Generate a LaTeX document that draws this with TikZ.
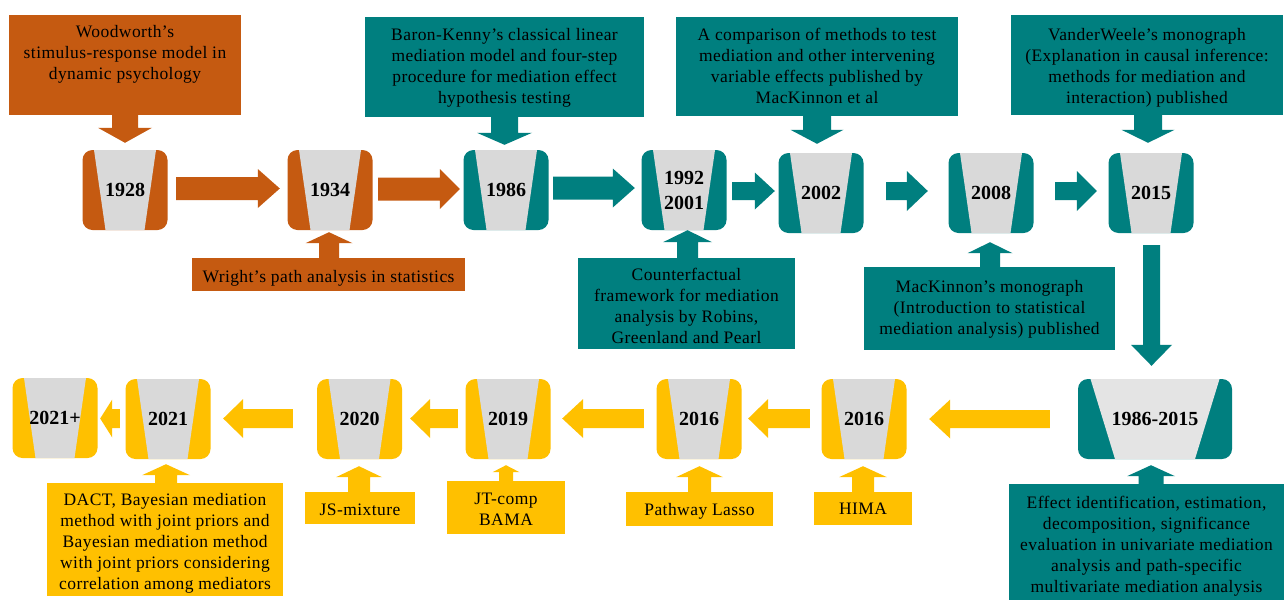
\documentclass[tikz,border=0pt]{standalone}
\usepackage{fontspec}
\setmainfont{Liberation Serif}
\newfontfamily\bodyfont[LetterSpace=2.5]{Liberation Serif}
\usetikzlibrary{calc}
\definecolor{orng}{HTML}{C55A11}
\definecolor{tealc}{HTML}{007F7F}
\definecolor{yel}{HTML}{FFC000}
\definecolor{gry}{HTML}{D9D9D9}
\definecolor{gryl}{HTML}{E4E4E4}
\tikzset{
  yearbox/.style n args={5}{rectangle, rounded corners=10pt, fill=#1,
    minimum width=#2, minimum height=80pt, inner sep=0pt, align=center,
    font=\fontsize{20}{25}\selectfont\bfseries,
    path picture={\fill[#5, sharp corners] let \p1=(path picture bounding box.north west),
      \p2=(path picture bounding box.south east) in
      (\x1+#3,\y1) -- (\x2-#3,\y1) -- (\x2-#4,\y2) -- (\x1+#4,\y2) -- cycle;}},
  tbox/.style={rectangle, fill=#1, inner sep=0pt, text=black}
}
\newcommand\tbt[4]{\parbox[c][#2][t]{#1}{\centering\bodyfont\fontsize{17.5}{21}\selectfont\rule{0pt}{#3}#4\par}}
\pgfkeys{/barr/.cd, b/.store in=\barrB, H/.store in=\barrH, h/.store in=\barrL}
\newcommand\barrow[4][]{%
  \pgfkeys{/barr/.cd,b=10,H=20,h=20,#1}%
  \coordinate (ba-s) at (#2);
  \coordinate (ba-t) at (#3);
  \coordinate (ba-m) at ($(ba-t)!\barrL pt!(ba-s)$);
  \fill[#4] ($(ba-s)!\barrB pt!90:(ba-t)$) -- ($(ba-m)!\barrB pt!-90:(ba-s)$)
    -- ($(ba-m)!\barrH pt!-90:(ba-s)$) -- (ba-t) -- ($(ba-m)!\barrH pt!90:(ba-s)$)
    -- ($(ba-m)!\barrB pt!90:(ba-s)$) -- ($(ba-s)!\barrB pt!-90:(ba-t)$) -- cycle;
}
\begin{document}
\begin{tikzpicture}[x=1pt,y=-1pt]
\fill[white] (0,0) rectangle (1284,600);
\useasboundingbox (0,0) rectangle (1284,600);

% year boxes
\node[yearbox={orng}{85pt}{11.5}{23}{gry}] (Y1) at (125,190) {1928};
\node[yearbox={orng}{85pt}{11.5}{23}{gry}] (Y2) at (330,190) {1934};
\node[yearbox={tealc}{85pt}{11.5}{23}{gry}] (Y3) at (506,190) {1986};
\node[yearbox={tealc}{85pt}{11.5}{23}{gry}] (Y4) at (684,190) {1992\\2001};
\node[yearbox={tealc}{85pt}{11.5}{23}{gry}] (Y5) at (821,193) {2002};
\node[yearbox={tealc}{85pt}{11.5}{23}{gry}] (Y6) at (991,193) {2008};
\node[yearbox={tealc}{85pt}{11.5}{23}{gry}] (Y7) at (1151,193) {2015};
\node[yearbox={tealc}{154pt}{12.5}{37}{gryl}] (Y8) at (1155,419) {1986-2015};
\node[yearbox={yel}{85pt}{11.5}{23}{gry}] (Y9) at (864,419) {2016};
\node[yearbox={yel}{85pt}{11.5}{23}{gry}] (Y10) at (699,419) {2016};
\node[yearbox={yel}{85pt}{11.5}{23}{gry}] (Y11) at (508,419) {2019};
\node[yearbox={yel}{85pt}{11.5}{23}{gry}] (Y12) at (359.5,419) {2020};
\node[yearbox={yel}{85pt}{11.5}{23}{gry}] (Y13) at (168,419) {2021};
\node[yearbox={yel}{85pt}{11.5}{23}{gry}] (Y14) at (55,418) {2021+};

% text boxes
\node[tbox=orng] (T1) at (125,65) {\tbt{232pt}{100pt}{22pt}{Woodworth’s\\stimulus-response model in\\dynamic psychology}};
\node[tbox=orng] (T2) at (328.5,274.5) {\tbt{273pt}{33pt}{24pt}{Wright’s path analysis in statistics}};
\node[tbox=tealc] (T3) at (504.5,67) {\tbt{279pt}{100pt}{23pt}{Baron-Kenny’s classical linear\\mediation model and four-step\\procedure for mediation effect\\hypothesis testing}};
\node[tbox=tealc] (T4) at (817,66.5) {\tbt{282pt}{99pt}{23pt}{A comparison of methods to test\\mediation and other intervening\\variable effects published by\\MacKinnon et al}};
\node[tbox=tealc] (T5) at (686.5,303.5) {\tbt{217pt}{91pt}{22pt}{Counterfactual\\framework for mediation\\analysis by Robins,\\Greenland and Pearl}};
\node[tbox=tealc] (T6) at (1147,65) {\tbt{272pt}{100pt}{25pt}{VanderWeele’s monograph\\(Explanation in causal inference:\\methods for mediation and\\interaction) published}};
\node[tbox=tealc] (T7) at (989.5,308.5) {\tbt{251pt}{83pt}{25pt}{MacKinnon’s monograph\\(Introduction to statistical\\mediation analysis) published}};
\node[tbox=tealc] (T8) at (1146.5,542) {\tbt{275pt}{116pt}{24pt}{Effect identification, estimation,\\decomposition, significance\\evaluation in univariate mediation\\analysis and path-specific\\multivariate mediation analysis}};
\node[tbox=yel] (T9) at (863,508.5) {\tbt{98pt}{33pt}{22pt}{HIMA}};
\node[tbox=yel] (T10) at (699.5,509) {\tbt{147pt}{34pt}{23pt}{Pathway Lasso}};
\node[tbox=yel] (T11) at (506,507.5) {\tbt{118pt}{53pt}{23pt}{JT-comp\\BAMA}};
\node[tbox=yel] (T12) at (360,508) {\tbt{110pt}{32pt}{23pt}{JS-mixture}};
\node[tbox=yel] (T13) at (165,539.5) {\tbt{236pt}{113pt}{22pt}{DACT, Bayesian mediation\\method with joint priors and\\Bayesian mediation method\\with joint priors considering\\correlation among mediators}};

% timeline arrows, top row
\barrow[b=11.5,H=19.5,h=22]{$(Y1.east)+(8.5,-1.5)$}{$(Y2.west)+(-7.5,-1.5)$}{orng}
\barrow[b=11.5,H=20,h=20]{$(Y2.east)+(5.5,-1)$}{$(Y3.west)+(-3.5,-1)$}{orng}
\barrow[b=11.5,H=19.5,h=22]{$(Y3.east)+(4.5,-2)$}{$(Y4.west)+(-6.5,-2)$}{tealc}
\barrow[b=9,H=18.5,h=20]{$(Y4.east)+(5.5,1)$}{$(Y5.west)+(-3.5,-2)$}{tealc}
\barrow[b=9,H=20,h=21]{$(Y5.east)+(22.5,-2)$}{$(Y6.west)+(-20.5,-2)$}{tealc}
\barrow[b=9,H=20,h=20]{$(Y6.east)+(21.5,-2)$}{$(Y7.west)+(-11.5,-2)$}{tealc}
\barrow[b=8.5,H=20.5,h=21]{$(Y7.south)+(0.5,12)$}{$(Y8.north)+(-3.5,-13)$}{tealc}
% bottom row
\barrow[b=9,H=19.5,h=21]{$(Y8.west)+(-28,0)$}{$(Y9.east)+(22.5,0)$}{yel}
\barrow[b=9.5,H=19.5,h=20]{$(Y9.west)+(-11.5,-0.5)$}{$(Y10.east)+(6.5,-0.5)$}{yel}
\barrow[b=9.5,H=19.5,h=21]{$(Y10.west)+(-12.5,-0.5)$}{$(Y11.east)+(11.5,-0.5)$}{yel}
\barrow[b=9.5,H=19.5,h=20]{$(Y11.west)+(-7.5,-0.5)$}{$(Y12.east)+(8,-0.5)$}{yel}
\barrow[b=9.5,H=19.5,h=20]{$(Y12.west)+(-24,-0.5)$}{$(Y13.east)+(12.5,-0.5)$}{yel}
\barrow[b=9.5,H=19,h=12]{$(Y13.west)+(-5.5,-0.5)$}{$(Y14.east)+(2.5,0.5)$}{yel}

% text box arrows
\barrow[b=13,H=27,h=15]{T1.south}{$(Y1.north)+(0,-7)$}{orng}
\barrow[b=13.5,H=27.5,h=12]{T3.south}{$(Y3.north)+(-1.5,-5)$}{tealc}
\barrow[b=14,H=26.5,h=14]{T4.south}{$(Y5.north)+(-4,-9)$}{tealc}
\barrow[b=14,H=26.5,h=13]{$(T6.south)+(1,0)$}{$(Y7.north)+(-3,-10)$}{tealc}
\barrow[b=10,H=23.5,h=11]{$(T2.north)+(0.5,0)$}{$(Y2.south)+(-1,2)$}{orng}
\barrow[b=10.5,H=24.5,h=12]{$(T5.north)+(1,0)$}{$(Y4.south)+(3.5,0)$}{tealc}
\barrow[b=10,H=22.5,h=11]{$(T7.north)+(0.5,0)$}{$(Y6.south)+(-1,9)$}{tealc}
\barrow[b=11,H=24,h=11]{$(T13.north)+(1,0)$}{$(Y13.south)+(-2,5)$}{yel}
\barrow[b=11,H=23,h=11]{$(T12.north)+(-1,0)$}{$(Y12.south)+(-0.5,7)$}{yel}
\barrow[b=7,H=13.5,h=7]{T11.north}{$(Y11.south)+(-2,6)$}{yel}
\barrow[b=11.5,H=23.5,h=11]{T10.north}{$(Y10.south)+(0.5,7)$}{yel}
\barrow[b=11,H=24,h=11]{T9.north}{$(Y9.south)+(-1,7)$}{yel}
\barrow[b=12.5,H=24,h=11]{$(T8.north)+(4.5,0)$}{$(Y8.south)+(-4,6)$}{tealc}
\end{tikzpicture}
\end{document}
